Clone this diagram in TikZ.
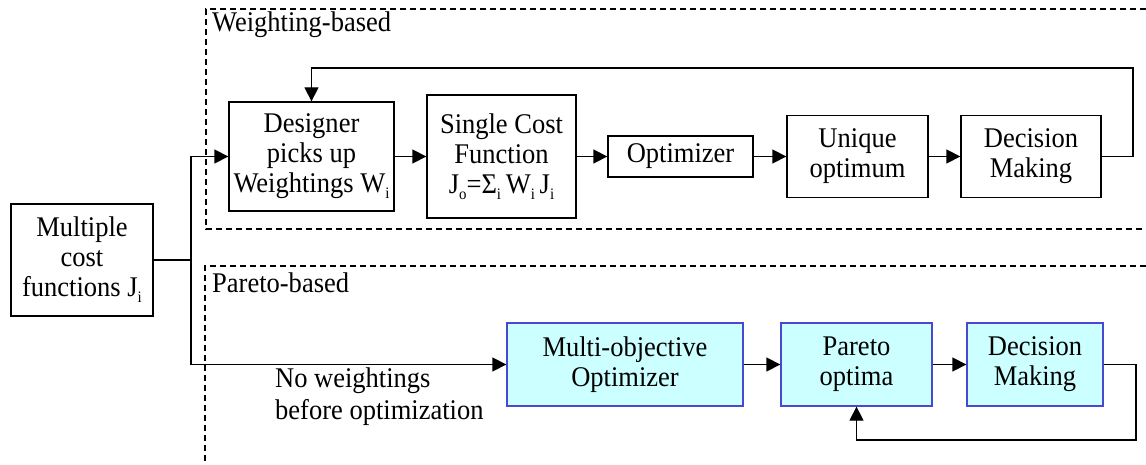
\documentclass[tikz,border=0pt]{standalone}
\usepackage{fontspec}
\setmainfont{Liberation Serif}[FakeStretch=0.93]
\usetikzlibrary{arrows.meta}
\newcommand{\mysub}[1]{\raisebox{-6pt}{\fontsize{16}{16}\selectfont #1}}
\definecolor{pfill}{RGB}{204,255,255}
\definecolor{pdraw}{RGB}{72,72,210}
\begin{document}
\begin{tikzpicture}[x=1pt,y=-1pt,
  box/.style={draw, line width=1.3pt, align=center, inner sep=0pt, font=\fontsize{28.5}{30}\selectfont},
  pbox/.style={box, draw=pdraw, fill=pfill},
  conn/.style={line width=1.3pt, -{Triangle[length=14pt,width=14pt]}},
  line/.style={line width=1.3pt},
  frame/.style={line width=1.6pt, dash pattern=on 6pt off 4pt},
  lbl/.style={inner sep=0pt, align=left, font=\fontsize{28.5}{32}\selectfont}]
\useasboundingbox (0,0) rectangle (1146,465);
% frames
\draw[frame] (1146,9) -- (206,9) -- (206,229) -- (1146,229);
\draw[frame] (1146,266) -- (205,266) -- (205,465);
\node[lbl, anchor=west] (wb) at (212,25) {Weighting-based};
\node[lbl, anchor=west] (pb) at (212,283) {Pareto-based};
% nodes
\node[box, minimum width=142pt, minimum height=112pt] (mc) at (82,260) {Multiple\\cost\\functions J\mysub{i}};
\node[box, minimum width=165pt, minimum height=109pt] (des) at (311.5,156.5) {Designer\\picks up\\Weightings W\mysub{i}};
\node[box, minimum width=149pt, minimum height=123pt] (scf) at (501.5,156.5) {Single Cost\\Function\\J\mysub{o}=Σ\mysub{i}\,W\mysub{i}\,J\mysub{i}};
\node[box, minimum width=145pt, minimum height=41pt] (opt) at (680.5,156.5) {Optimizer};
\node[box, minimum width=141pt, minimum height=82pt] (uo) at (857.5,156.5) {Unique\\optimum};
\node[box, minimum width=140pt, minimum height=82pt] (dm1) at (1031,156.5) {Decision\\Making};
\node[pbox, minimum width=236pt, minimum height=83pt] (mo) at (625,364.5) {Multi-objective\\Optimizer};
\node[pbox, minimum width=151pt, minimum height=83pt] (po) at (856.5,364.5) {Pareto\\optima};
\node[pbox, minimum width=136pt, minimum height=83pt] (dm2) at (1035,364.5) {Decision\\Making};
\node[lbl, anchor=west] (nw) at (275,397) {No weightings\\before optimization};
% connectors
\coordinate (j) at (191,260);
\draw[line] (mc.east) -- (j);
\draw[conn] (j) |- (des.west);
\draw[conn] (j) |- (mo.west);
\draw[conn] (des) -- (scf);
\draw[conn] (scf) -- (opt);
\draw[conn] (opt) -- (uo);
\draw[conn] (uo) -- (dm1);
\coordinate (f1) at (1133,68);
\draw[conn] (dm1.east) -| (f1) -| (des.north);
\draw[conn] (mo) -- (po);
\draw[conn] (po) -- (dm2);
\coordinate (f2) at (1136,440);
\draw[conn] (dm2.east) -| (f2) -| (po.south);
\end{tikzpicture}
\end{document}
